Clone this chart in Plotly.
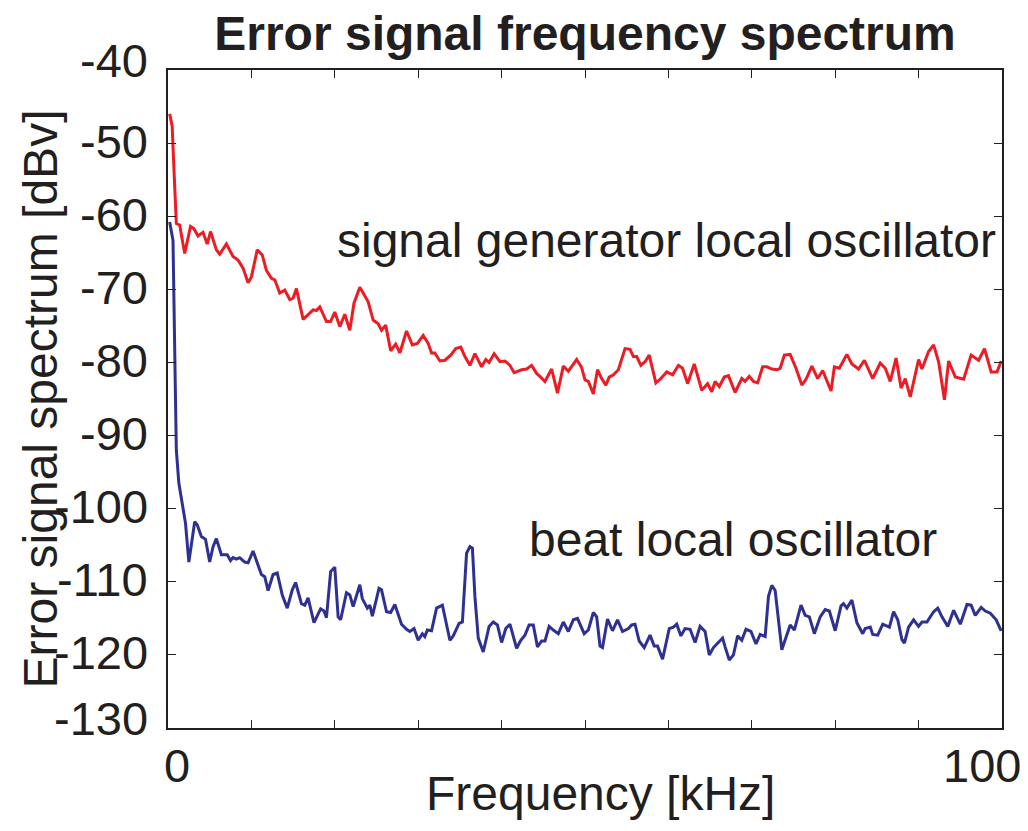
import plotly.graph_objects as go

# signal generator local oscillator (red)
sg_freq = [0.2, 0.5, 0.7, 1.0, 1.4, 2.0, 2.7, 3.1, 3.6, 4.2, 4.7, 5.1, 5.8, 6.2, 7.0, 7.8, 8.4, 9.0,
           9.6, 10.0, 10.7, 11.3, 11.8, 12.4, 12.8, 13.4, 14.0, 14.6, 15.0, 15.4, 16.2, 16.8, 17.4,
           17.8, 18.2, 19.0, 19.5, 20.0, 20.6, 21.2, 21.8, 22.3, 23.0, 23.4, 24.0, 24.6, 25.2, 25.6,
           26.1, 26.7, 27.3, 27.8, 28.6, 29.3, 29.9, 30.6, 31.2, 31.6, 32.0, 32.6, 33.2, 33.9, 34.5,
           35.1, 35.6, 36.2, 36.8, 37.6, 38.1, 38.5, 39.1, 39.8, 40.4, 41.0, 41.5, 42.4, 43.0, 43.6,
           44.2, 44.6, 45.2, 46.0, 46.7, 47.4, 48.0, 49.0, 49.6, 50.0, 50.4, 51.0, 51.5, 52.0, 52.5,
           52.9, 53.4, 54.0, 54.8, 55.4, 55.8, 56.2, 56.7, 57.2, 57.7, 58.5, 59.1, 59.8, 60.5, 61.2,
           61.7, 62.3, 63.1, 64.0, 64.7, 65.2, 65.6, 66.1, 66.7, 67.2, 68.0, 68.8, 69.2, 69.7, 70.2,
           70.7, 71.3, 71.8, 72.4, 73.0, 73.4, 73.9, 74.6, 75.3, 76.0, 76.5, 77.2, 77.9, 78.5, 79.5,
           79.9, 80.5, 81.4, 82.0, 82.8, 83.5, 84.5, 85.4, 86.0, 86.6, 87.3, 87.9, 88.4, 89.0, 90.0,
           90.4, 91.2, 91.8, 92.4, 93.1, 93.6, 94.4, 95.4, 96.3, 97.2, 97.9, 98.7, 99.4, 99.9]
sg_db = [-46.0, -47.7, -53.2, -61.0, -61.2, -65.1, -61.4, -61.7, -62.7, -62.2, -63.8, -62.1, -64.6,
         -65.2, -63.8, -65.5, -66.0, -67.1, -69.1, -68.3, -64.6, -65.3, -67.4, -68.5, -68.7, -70.5,
         -70.1, -71.4, -71.2, -69.9, -74.1, -73.5, -72.8, -72.9, -72.4, -74.4, -74.4, -73.1, -75.1,
         -73.4, -75.6, -71.9, -69.7, -70.5, -71.7, -74.2, -74.7, -75.6, -74.9, -78.4, -77.5, -78.7,
         -75.7, -77.6, -77.4, -76.3, -77.4, -78.7, -78.7, -79.8, -79.7, -79.0, -78.1, -77.9, -79.2,
         -80.4, -78.8, -80.6, -79.6, -80.0, -78.8, -79.9, -79.8, -80.4, -81.4, -81.0, -80.9, -80.4,
         -81.5, -81.9, -82.6, -80.9, -84.2, -80.5, -81.2, -79.6, -80.7, -82.4, -82.6, -84.3, -81.0,
         -82.2, -83.1, -82.0, -81.7, -81.0, -78.1, -78.2, -79.2, -79.2, -80.4, -79.9, -79.0, -82.8,
         -82.2, -81.3, -81.7, -80.4, -80.8, -82.9, -80.2, -83.8, -82.9, -84.0, -82.6, -83.3, -82.0,
         -81.8, -84.1, -82.2, -82.6, -81.9, -82.6, -82.8, -80.6, -80.6, -80.9, -81.0, -80.8, -79.0,
         -78.9, -80.8, -83.1, -82.3, -80.5, -82.2, -81.1, -83.9, -80.6, -80.8, -78.9, -80.2, -80.9,
         -79.7, -82.2, -80.1, -80.8, -82.6, -79.4, -83.5, -82.2, -84.7, -79.6, -80.9, -78.5, -77.6,
         -79.9, -85.1, -79.8, -82.0, -82.3, -79.0, -79.7, -78.1, -81.3, -81.3, -79.8]

# beat local oscillator (blue)
beat_freq = [0.2, 0.6, 0.9, 1.0, 1.3, 1.8, 2.1, 2.5, 2.9, 3.2, 3.5, 4.0, 4.5, 5.0, 5.4, 5.8, 6.4, 7.1,
             7.5, 7.8, 8.2, 8.6, 9.2, 9.6, 10.2, 10.7, 11.2, 11.6, 12.0, 12.6, 13.1, 13.7, 14.3, 14.9,
             15.3, 16.0, 16.4, 16.8, 17.5, 18.3, 18.7, 19.0, 19.5, 20.0, 20.4, 20.7, 21.4, 21.8, 22.2,
             23.0, 23.3, 23.9, 24.2, 24.5, 25.3, 25.6, 26.2, 26.7, 27.2, 28.0, 28.6, 29.0, 29.5, 30.0,
             30.5, 30.8, 31.1, 31.6, 32.2, 32.9, 33.8, 34.2, 34.9, 35.3, 35.8, 36.2, 36.5, 36.8, 37.2,
             37.8, 38.5, 39.0, 39.5, 40.0, 40.5, 41.0, 41.8, 42.3, 42.8, 43.3, 43.8, 44.3, 44.8, 45.2,
             45.7, 46.2, 46.8, 47.4, 48.0, 48.6, 49.1, 49.9, 50.4, 51.0, 51.4, 51.8, 52.1, 52.7, 53.3,
             53.9, 54.5, 55.2, 55.6, 56.0, 56.5, 57.1, 57.8, 58.3, 58.7, 59.3, 60.1, 60.6, 61.0, 61.5,
             62.0, 62.6, 63.2, 63.8, 64.4, 64.9, 65.4, 65.9, 66.5, 66.8, 67.3, 67.8, 68.3, 68.8, 69.3,
             69.9, 70.5, 71.0, 71.6, 72.0, 72.4, 72.8, 73.6, 74.6, 75.1, 75.9, 76.4, 76.9, 77.5, 78.2,
             78.8, 79.3, 80.0, 80.7, 81.0, 81.4, 82.0, 82.6, 83.3, 83.6, 84.2, 84.5, 85.1, 85.7, 86.5,
             87.0, 87.5, 88.0, 88.3, 88.8, 89.4, 90.0, 90.4, 91.0, 91.8, 92.3, 92.8, 93.5, 94.2, 95.0,
             95.8, 96.3, 96.8, 97.5, 98.0, 98.6, 99.3, 99.9]
beat_db = [-60.8, -63.3, -85.1, -92.0, -96.5, -100.2, -102.0, -107.3, -104.3, -101.8, -102.2, -103.8,
           -104.2, -107.3, -105.2, -104.1, -106.3, -106.3, -107.1, -106.7, -106.9, -106.7, -107.3,
           -107.4, -105.8, -107.3, -109.0, -109.3, -111.2, -109.0, -108.8, -111.8, -113.6, -111.1,
           -110.1, -113.0, -113.2, -112.2, -115.6, -113.7, -114.0, -114.9, -108.6, -108.0, -114.8,
           -115.2, -111.5, -111.8, -113.4, -110.4, -112.3, -113.6, -113.2, -114.7, -110.9, -111.1,
           -114.1, -114.2, -113.1, -115.8, -116.5, -116.8, -116.4, -118.0, -117.1, -117.5, -116.6,
           -116.7, -113.6, -113.2, -118.0, -117.4, -115.7, -115.5, -106.1, -105.2, -105.4, -112.0,
           -117.7, -119.6, -116.1, -115.5, -115.9, -118.3, -116.4, -115.8, -119.1, -118.0, -117.3,
           -115.9, -115.9, -118.9, -118.1, -118.1, -116.1, -116.6, -117.1, -115.5, -116.8, -115.2,
           -115.0, -117.1, -116.6, -114.2, -114.8, -118.8, -119.0, -115.1, -116.7, -115.2, -116.8,
           -116.4, -115.9, -115.8, -118.1, -119.0, -117.3, -118.8, -118.8, -120.6, -116.4, -116.2,
           -115.8, -117.4, -116.4, -116.5, -118.3, -116.1, -116.8, -120.0, -119.0, -118.4, -117.7,
           -118.9, -120.7, -120.0, -117.4, -118.0, -116.5, -116.8, -118.5, -117.2, -117.5, -112.0,
           -110.5, -111.2, -119.3, -115.9, -116.6, -113.2, -114.6, -114.8, -117.1, -114.8, -113.8,
           -114.0, -116.7, -113.3, -113.0, -113.6, -112.5, -115.6, -117.1, -116.4, -116.2, -117.2,
           -117.3, -115.8, -116.2, -114.1, -115.2, -117.9, -118.4, -116.2, -115.2, -116.1, -115.5,
           -115.5, -114.1, -113.6, -114.8, -116.1, -113.9, -115.8, -113.1, -113.2, -114.6, -113.5,
           -114.0, -114.3, -115.2, -116.7]

y_ticks = [-40, -50, -60, -70, -80, -90, -100, -110, -120, -130]
y_labels = ["-40", "-50", "-60", "-70", "-80", "-90", "-100", "-110", "-120", "-130"]
x_ticks = [0, 10, 20, 30, 40, 50, 60, 70, 80, 90, 100]

FONT = "Liberation Sans"
TEXT = "#231f20"

fig = go.Figure()
fig.add_trace(go.Scatter(x=sg_freq, y=sg_db, mode="lines",
                         line=dict(color="#ed1c24", width=3), showlegend=False))
fig.add_trace(go.Scatter(x=beat_freq, y=beat_db, mode="lines",
                         line=dict(color="#2e3192", width=3), showlegend=False))

axis_common = dict(showgrid=False, zeroline=False, showline=True, linecolor=TEXT, linewidth=1.5,
                   mirror="ticks", ticks="inside", ticklen=8, tickwidth=1.2, tickcolor=TEXT)

fig.update_xaxes(range=[0, 100], tickvals=x_ticks, ticktext=[""] * len(x_ticks),
                 **axis_common)
fig.update_yaxes(range=[-130, -40], tickvals=y_ticks, ticktext=[""] * len(y_ticks),
                 **axis_common)

# y tick labels; the end labels sit a little higher in the original
for i, (val, lab) in enumerate(zip(y_ticks, y_labels)):
    shift = 10 if i in (0, len(y_ticks) - 1) else 2
    fig.add_annotation(xref="paper", x=0, y=val, text=lab, showarrow=False,
                       xanchor="right", xshift=-18, yshift=shift,
                       font=dict(family=FONT, size=47, color=TEXT))

# x tick labels, placed as in the original
fig.add_annotation(x=1.1, y=-130, text="0", showarrow=False, yanchor="top", yshift=-9,
                   font=dict(family=FONT, size=47, color=TEXT))
fig.add_annotation(x=97.6, y=-130, text="100", showarrow=False, yanchor="top", yshift=-9,
                   font=dict(family=FONT, size=47, color=TEXT))

# axis titles
fig.add_annotation(xref="paper", yref="paper", x=0.518, y=-0.1, text="Frequency [kHz]",
                   showarrow=False, yanchor="middle", font=dict(family=FONT, size=48, color=TEXT))
fig.add_annotation(xref="paper", yref="paper", x=-0.153, y=0.5, text="Error signal spectrum [dBv]",
                   textangle=-90, showarrow=False, xanchor="center",
                   font=dict(family=FONT, size=48, color=TEXT))

# curve labels
fig.add_annotation(x=59.8, y=-63.3, text="signal generator local oscillator", showarrow=False,
                   font=dict(family=FONT, size=48, color=TEXT))
fig.add_annotation(x=67.8, y=-104.2, text="beat local oscillator", showarrow=False,
                   font=dict(family=FONT, size=48, color=TEXT))

# page body has an 8px margin, so the figure is shrunk and margins shifted by that amount
fig.update_layout(
    width=1020, height=823,
    margin=dict(l=160, r=26, t=62, b=103),
    paper_bgcolor="white", plot_bgcolor="white",
    title=dict(text="<b>Error signal frequency spectrum</b>", x=0.5, xref="paper",
               y=1 - 25 / 823, yref="container", xanchor="center", yanchor="middle",
               font=dict(family=FONT, size=48, color=TEXT)),
)

fig.write_html("out.html")
